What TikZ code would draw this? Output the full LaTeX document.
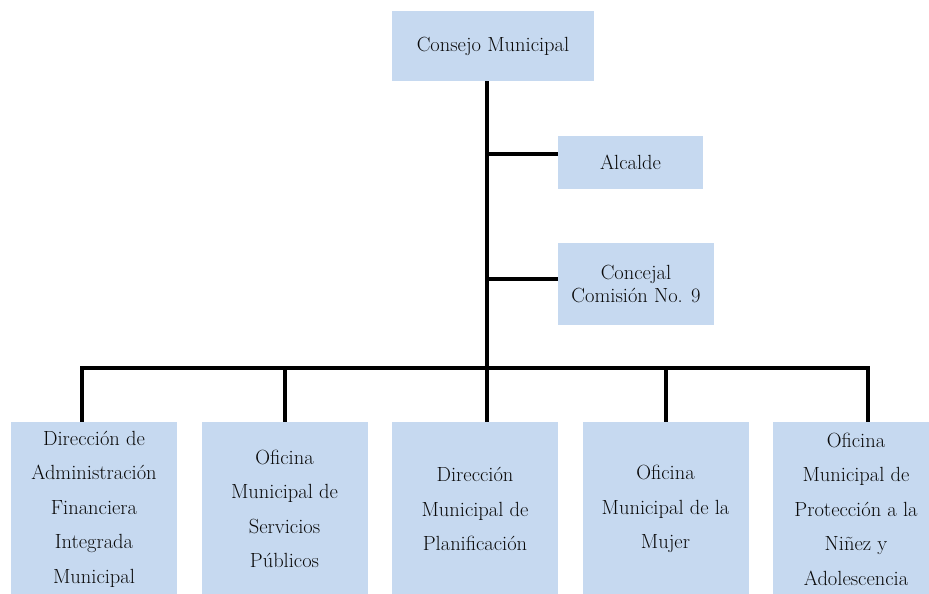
\documentclass[tikz,border=0pt]{standalone}
\usepackage{fontspec}
\definecolor{boxblue}{RGB}{198,217,240}
\definecolor{txt}{RGB}{10,10,10}
\tikzset{
  box/.style={fill=boxblue, draw=none, inner sep=0pt, align=center, text=txt,
    font=\rmfamily\fontsize{20.5}{23}\selectfont},
  lowbox/.style={box, minimum width=166pt, minimum height=174pt,
    font=\rmfamily\fontsize{20.5}{34.5}\selectfont},
  conn/.style={line width=3.6pt, black, line join=miter}
}
\begin{document}
\begin{tikzpicture}[x=1pt,y=-1pt]
\useasboundingbox (0,0) rectangle (929,594);
\clip (0,0) rectangle (929,594);
\node[box, minimum width=202pt, minimum height=70pt] (top) at (493,46) {Consejo Municipal};
\node[box, minimum width=145pt, minimum height=53pt] (alc) at (630.5,162.5) {Alcalde};
\node[box, minimum width=156pt, minimum height=82pt] (con) at (636,284) {Concejal\\Comisión No. 9};
\node[lowbox] (b1) at (94,509) {Dirección de\\Administración\\Financiera\\Integrada\\Municipal};
\node[lowbox] (b2) at (284.5,509) {Oficina\\Municipal de\\Servicios\\Públicos};
\node[lowbox] (b3) at (475,509) {Dirección\\Municipal de\\Planificación};
\node[lowbox] (b4) at (665.5,509) {Oficina\\Municipal de la\\Mujer};
\node[lowbox] (b5) at (856,509) {Oficina\\Municipal de\\Protección a la\\Niñez y\\Adolescencia};
\coordinate (sp) at (487,368);
\coordinate (ja) at (487,154);
\coordinate (jc) at (487,279);
\coordinate (j1) at (82,368);
\coordinate (j2) at (285,368);
\coordinate (j4) at (666,368);
\coordinate (j5) at (868,368);
\draw[conn] (sp |- top.south) -- (sp) -- (sp |- b3.north);
\draw[conn] (ja) -- (ja -| alc.west);
\draw[conn] (jc) -- (jc -| con.west);
\draw[conn] (j1 |- b1.north) -- (j1) -- (j5) -- (j5 |- b5.north);
\draw[conn] (j2) -- (j2 |- b2.north);
\draw[conn] (j4) -- (j4 |- b4.north);
\end{tikzpicture}
\end{document}
